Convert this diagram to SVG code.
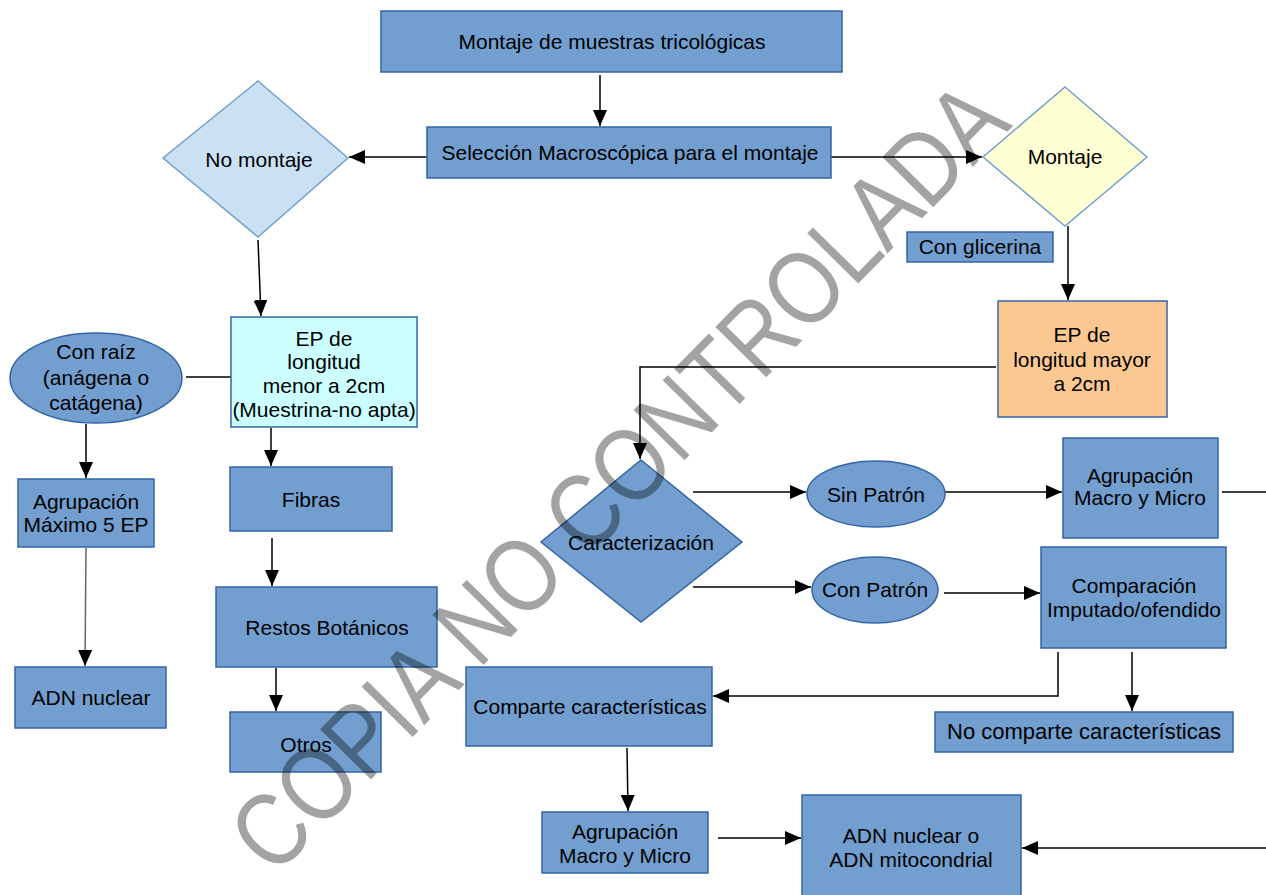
<svg xmlns="http://www.w3.org/2000/svg" width="1266" height="895" viewBox="0 0 1266 895">
<defs>
<marker id="arr" markerUnits="userSpaceOnUse" markerWidth="16" markerHeight="14" refX="16" refY="7" orient="auto">
<path d="M0,0 L16,7 L0,14 z" fill="#000"/>
</marker>
<style>
.b{fill:#729fcf;stroke:#3465a4;stroke-width:1.5}
.t{font-family:"Liberation Sans",Arial,sans-serif;font-size:21px;fill:#000;text-anchor:middle}
.c{fill:none;stroke:#000;stroke-width:1.5}
.a{marker-end:url(#arr)}
</style>
</defs>
<rect width="1266" height="895" fill="#fff"/>
<g id="connectors">
<path class="c a" d="M600,75 V126"/>
<path class="c a" d="M427,157 H349"/>
<path class="c a" d="M831,157 H982"/>
<path class="c a" d="M1068,226 V300"/>
<path class="c a" d="M996,367 H640 V459"/>
<path class="c a" d="M693,492 H806"/>
<path class="c a" d="M945,492 H1062"/>
<path class="c" d="M1222,492 H1266"/>
<path class="c a" d="M693,587 H811"/>
<path class="c a" d="M944,593 H1040"/>
<path class="c a" d="M1058,652 V696 H713"/>
<path class="c a" d="M1132,652 V711"/>
<path class="c a" d="M627,748 L628,811"/>
<path class="c a" d="M718,838 H801"/>
<path class="c a" d="M1266,848 H1022"/>
<path class="c a" d="M258,240 L261,316"/>
<path class="c" d="M231,377 H186"/>
<path class="c a" d="M86,424 V478"/>
<path class="c a" d="M86,548 L85,666" style="stroke:#666"/>
<path class="c a" d="M271,428 V466"/>
<path class="c a" d="M272,538 V586"/>
<path class="c a" d="M276,668 V711"/>
</g>
<g id="n-montaje-muestras"><rect class="b" x="381" y="11" width="461" height="61"/><text class="t" x="612" y="49">Montaje de muestras tricológicas</text></g>
<g id="n-seleccion"><rect class="b" x="427" y="127" width="404" height="51"/><text class="t" x="630" y="160">Selección Macroscópica para el montaje</text></g>
<g id="n-no-montaje"><polygon points="258,81 348,158 258,237 163,158" fill="#c9e1f3" stroke="#729fcf" stroke-width="1.5"/><text class="t" x="259" y="167">No montaje</text></g>
<g id="n-montaje"><polygon points="1065,87 1147,157 1065,226 983,157" fill="#ffffd4" stroke="#729fcf" stroke-width="1.5"/><text class="t" x="1065" y="164">Montaje</text></g>
<g id="n-glicerina"><rect class="b" x="907" y="232" width="146" height="30"/><text class="t" x="980" y="254">Con glicerina</text></g>
<g id="n-ep-mayor"><rect x="998" y="301" width="169" height="116" fill="#fcc892" stroke="#3465a4" stroke-width="1.5"/><text class="t" x="1082" y="342">EP de</text><text class="t" x="1082" y="367">longitud mayor</text><text class="t" x="1082" y="391">a 2cm</text></g>
<g id="n-caracterizacion"><polygon points="641,460 742,542 641,622 541,542" class="b"/><text class="t" x="641" y="550">Caracterización</text></g>
<g id="n-sin-patron"><ellipse class="b" cx="876" cy="494" rx="69" ry="33"/><text class="t" x="876" y="502">Sin Patrón</text></g>
<g id="n-agrup-1"><rect class="b" x="1063" y="438" width="155" height="100"/><text class="t" x="1140" y="483">Agrupación</text><text class="t" x="1140" y="505">Macro y Micro</text></g>
<g id="n-con-patron"><ellipse class="b" cx="875" cy="590" rx="63" ry="33"/><text class="t" x="875" y="597">Con Patrón</text></g>
<g id="n-comparacion"><rect class="b" x="1041" y="547" width="185" height="101"/><text class="t" x="1134" y="593">Comparación</text><text class="t" x="1134" y="617">Imputado/ofendido</text></g>
<g id="n-comparte"><rect class="b" x="466" y="667" width="246" height="79"/><text class="t" x="590" y="714">Comparte características</text></g>
<g id="n-no-comparte"><rect class="b" x="935" y="712" width="298" height="40"/><text class="t" x="1084" y="739" style="font-size:22px">No comparte características</text></g>
<g id="n-agrup-2"><rect class="b" x="542" y="812" width="166" height="61"/><text class="t" x="625" y="839">Agrupación</text><text class="t" x="625" y="863">Macro y Micro</text></g>
<g id="n-adn-mito"><rect class="b" x="802" y="795" width="219" height="105"/><text class="t" x="911" y="843">ADN nuclear o</text><text class="t" x="911" y="867">ADN mitocondrial</text></g>
<g id="n-ep-menor"><rect x="231" y="317" width="186" height="110" fill="#ccffff" stroke="#3465a4" stroke-width="1.5"/><text class="t" x="324" y="346">EP de</text><text class="t" x="324" y="369">longitud</text><text class="t" x="324" y="393">menor a 2cm</text><text class="t" x="324" y="417">(Muestrina-no apta)</text></g>
<g id="n-con-raiz"><ellipse class="b" cx="96" cy="378" rx="86" ry="45"/><text class="t" x="96" y="359">Con raíz</text><text class="t" x="96" y="385">(anágena o</text><text class="t" x="96" y="410">catágena)</text></g>
<g id="n-agrup-max"><rect class="b" x="18" y="479" width="136" height="68"/><text class="t" x="86" y="509">Agrupación</text><text class="t" x="86" y="532">Máximo 5 EP</text></g>
<g id="n-adn-nuclear"><rect class="b" x="15" y="667" width="151" height="61"/><text class="t" x="91" y="705">ADN nuclear</text></g>
<g id="n-fibras"><rect class="b" x="230" y="467" width="162" height="64"/><text class="t" x="311" y="507">Fibras</text></g>
<g id="n-restos"><rect class="b" x="216" y="587" width="221" height="80"/><text class="t" x="327" y="635">Restos Botánicos</text></g>
<g id="n-otros"><rect class="b" x="230" y="712" width="151" height="60"/><text class="t" x="306" y="752">Otros</text></g>
<text transform="translate(274,878) rotate(-45.5)" x="0" y="0" font-family="Liberation Sans,Arial,sans-serif" font-size="104" fill="#000" fill-opacity="0.36" textLength="1055" lengthAdjust="spacingAndGlyphs">COPIA NO CONTROLADA</text>
</svg>
